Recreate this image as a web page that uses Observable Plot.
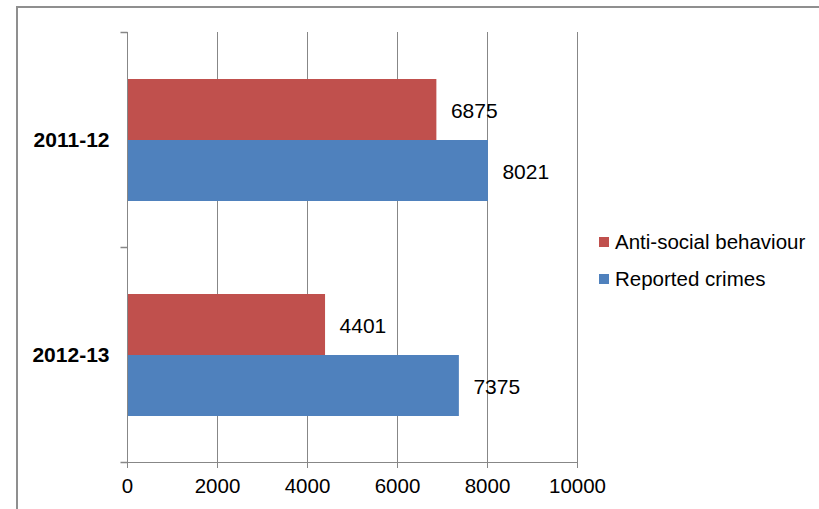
<!DOCTYPE html>
<html>
<head>
<meta charset="utf-8">
<script src="https://cdn.jsdelivr.net/npm/d3@7"></script>
<script src="https://cdn.jsdelivr.net/npm/@observablehq/plot@0.6"></script>
<style>
  body { margin: 0; background: #fff; }
  #chart {
    position: relative; width: 819px; height: 509px; overflow: hidden;
    font-family: "Liberation Sans", Arial, sans-serif; background: #fff;
  }
  #border {
    position: absolute; left: 16px; top: 6px; width: 900px; height: 600px;
    border: 2px solid #8f8f8f; box-sizing: border-box;
  }
  #chart svg { position: absolute; left: 0; top: 0; }
  #chart svg text { fill: #000; }
  #chart svg [aria-label^="fy-axis"] text { font-weight: bold; font-size: 21px; }
  #legend { position: absolute; left: 599px; top: 230px; font-size: 20.5px; color: #000; }
  #legend .row { display: flex; align-items: center; height: 24px; margin-bottom: 13px; white-space: nowrap; }
  #legend .sw { width: 10px; height: 10px; margin-right: 6px; flex: none; }
</style>
</head>
<body>
<div id="chart">
  <div id="border"></div>
  <div id="legend"></div>
</div>
<script>
// Financial years, series and values
const years = ["2011-12", "2012-13"];
const seriesNames = ["Anti-social behaviour", "Reported crimes"];
const antiSocial = [6875, 4401];
const reportedCrimes = [8021, 7375];
const seriesColors = ["#C0504D", "#4F81BD"];
const xTicks = [0, 2000, 4000, 6000, 8000, 10000];

const rows = years.flatMap((year, i) => [
  {year, series: seriesNames[0], value: antiSocial[i]},
  {year, series: seriesNames[1], value: reportedCrimes[i]}
]);

const gridColor = "#878787";

// Short horizontal tick drawn to the left of the category axis
const tickLeft = {
  draw(context) {
    context.moveTo(-7, 0);
    context.lineTo(0, 0);
  }
};

const chart = Plot.plot({
  width: 819,
  height: 509,
  marginLeft: 127,
  marginRight: 242,
  marginTop: 31,
  marginBottom: 47,
  style: {
    fontFamily: '"Liberation Sans", Arial, sans-serif',
    fontSize: "20.5px",
    color: gridColor,
    background: "transparent",
    overflow: "visible"
  },
  x: {
    domain: [0, 10000],
    ticks: xTicks,
    tickFormat: d => String(d),
    tickSize: 6,
    tickPadding: 10,
    line: true,
    label: null
  },
  y: {domain: seriesNames, paddingInner: 0, paddingOuter: 0.75, axis: null},
  fy: {domain: years, padding: 0, axis: "left", tickSize: 0, tickPadding: 18, label: null},
  color: {domain: seriesNames, range: seriesColors},
  marks: [
    Plot.ruleX(xTicks.slice(1), {stroke: gridColor}),
    Plot.barX(rows, {fy: "year", y: "series", x: "value", fill: "series"}),
    Plot.ruleX([0], {stroke: gridColor}),
    Plot.text(rows, {
      fy: "year", y: "series", x: "value",
      text: d => String(d.value),
      textAnchor: "start", dx: 14, dy: 1,
      fill: "#000", fontSize: 21
    }),
    Plot.dot(years, {fy: d => d, frameAnchor: "top-left", symbol: tickLeft, stroke: gridColor}),
    Plot.dot(years.slice(-1), {fy: d => d, frameAnchor: "bottom-left", symbol: tickLeft, stroke: gridColor})
  ]
});

document.getElementById("chart").insertBefore(chart, document.getElementById("legend"));

// Legend to the right of the plot
const legend = document.getElementById("legend");
seriesNames.forEach((name, i) => {
  const row = document.createElement("div");
  row.className = "row";
  const sw = document.createElement("span");
  sw.className = "sw";
  sw.style.background = seriesColors[i];
  const label = document.createElement("span");
  label.textContent = name;
  row.append(sw, label);
  legend.append(row);
});
</script>
</body>
</html>
